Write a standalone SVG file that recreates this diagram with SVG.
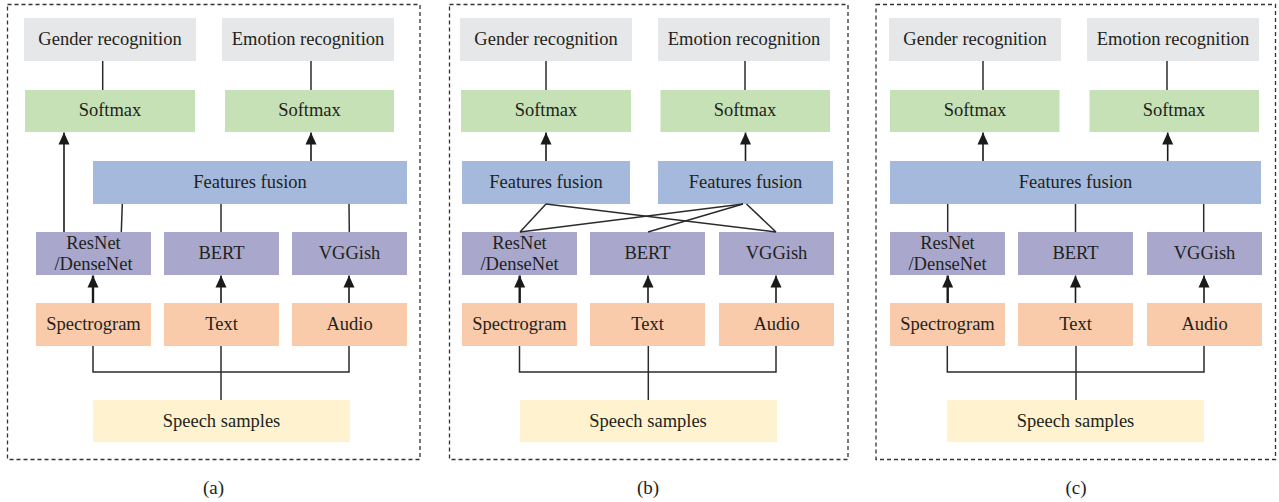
<svg xmlns="http://www.w3.org/2000/svg" width="1279" height="502" viewBox="0 0 1279 502">
<style>
text{font-family:"Liberation Serif","Times New Roman",serif;font-size:18.5px;fill:#231F20;text-anchor:middle}
.gray{fill:#E6E7E8}.green{fill:#C5E1B5}.blue{fill:#A4B9DB}.purple{fill:#A9A8CC}.orange{fill:#F9CBAA}.yellow{fill:#FEF3CE}
.ln{stroke:#2b2b2b;stroke-width:1.5;fill:none}
.ar{stroke:#1a1a1a;stroke-width:1.6;fill:none;marker-end:url(#ah)}
.ar2{stroke:#1a1a1a;stroke-width:2.4;fill:none;marker-end:url(#ah)}
.border{fill:none;stroke:#333;stroke-width:1.3;stroke-dasharray:4 3}
.lab{font-size:19px}
</style>
<defs>
<marker id="ah" viewBox="0 0 12 12" refX="12" refY="6" markerWidth="12" markerHeight="12" markerUnits="userSpaceOnUse" orient="auto">
<path d="M0,0.5 L12,6 L0,11.5 z" fill="#1a1a1a"/>
</marker>
</defs>
<rect fill="#fff" x="0" y="0" width="1279" height="502"/>

<!-- Panel borders -->
<g id="borders">
<rect class="border" x="7.5" y="4.5" width="412.5" height="455"/>
<rect class="border" x="449.5" y="4.5" width="398.5" height="455"/>
<rect class="border" x="876" y="4.5" width="399.5" height="455"/>
</g>

<!-- ============ Panel (a) ============ -->
<g id="a-gender"><rect class="gray" x="24" y="18" width="172" height="43"/><text x="110" y="45">Gender recognition</text></g>
<g id="a-emotion"><rect class="gray" x="222" y="18" width="172" height="43"/><text x="308" y="45">Emotion recognition</text></g>
<g id="a-softmax1"><rect class="green" x="25" y="90" width="170" height="42"/><text x="110" y="116">Softmax</text></g>
<g id="a-softmax2"><rect class="green" x="225" y="90" width="169" height="42"/><text x="309.5" y="116">Softmax</text></g>
<g id="a-fusion"><rect class="blue" x="93" y="161" width="314" height="43"/><text x="250" y="188">Features fusion</text></g>
<g id="a-resnet"><rect class="purple" x="36" y="232" width="115" height="43"/><text x="93.5" y="248.5">ResNet</text><text x="93.5" y="270">/DenseNet</text></g>
<g id="a-bert"><rect class="purple" x="164" y="232" width="115" height="43"/><text x="221.5" y="259">BERT</text></g>
<g id="a-vggish"><rect class="purple" x="292" y="232" width="115" height="43"/><text x="349.5" y="259">VGGish</text></g>
<g id="a-spectrogram"><rect class="orange" x="36" y="303" width="115" height="43"/><text x="93.5" y="330">Spectrogram</text></g>
<g id="a-text"><rect class="orange" x="164" y="303" width="115" height="43"/><text x="221.5" y="330">Text</text></g>
<g id="a-audio"><rect class="orange" x="292" y="303" width="115" height="43"/><text x="349.5" y="330">Audio</text></g>
<g id="a-speech"><rect class="yellow" x="93" y="400" width="257" height="42"/><text x="221.5" y="427">Speech samples</text></g>

<!-- ============ Panel (b) ============ -->
<g id="b-gender"><rect class="gray" x="460" y="18" width="172" height="43"/><text x="546" y="45">Gender recognition</text></g>
<g id="b-emotion"><rect class="gray" x="658" y="18" width="172" height="43"/><text x="744" y="45">Emotion recognition</text></g>
<g id="b-softmax1"><rect class="green" x="461" y="90" width="170" height="42"/><text x="546" y="116">Softmax</text></g>
<g id="b-softmax2"><rect class="green" x="660.5" y="90" width="169.5" height="42"/><text x="745" y="116">Softmax</text></g>
<g id="b-fusion1"><rect class="blue" x="462" y="161" width="168" height="43"/><text x="546" y="188">Features fusion</text></g>
<g id="b-fusion2"><rect class="blue" x="658" y="161" width="175" height="43"/><text x="745.5" y="188">Features fusion</text></g>
<g id="b-resnet"><rect class="purple" x="462" y="232" width="115" height="43"/><text x="519.5" y="248.5">ResNet</text><text x="519.5" y="270">/DenseNet</text></g>
<g id="b-bert"><rect class="purple" x="590" y="232" width="115" height="43"/><text x="647.5" y="259">BERT</text></g>
<g id="b-vggish"><rect class="purple" x="719" y="232" width="115" height="43"/><text x="776.5" y="259">VGGish</text></g>
<g id="b-spectrogram"><rect class="orange" x="462" y="303" width="115" height="43"/><text x="519.5" y="330">Spectrogram</text></g>
<g id="b-text"><rect class="orange" x="590" y="303" width="115" height="43"/><text x="647.5" y="330">Text</text></g>
<g id="b-audio"><rect class="orange" x="719" y="303" width="115" height="43"/><text x="776.5" y="330">Audio</text></g>
<g id="b-speech"><rect class="yellow" x="520" y="400" width="257" height="42"/><text x="648" y="427">Speech samples</text></g>

<!-- ============ Panel (c) ============ -->
<g id="c-gender"><rect class="gray" x="889" y="18" width="172" height="43"/><text x="975" y="45">Gender recognition</text></g>
<g id="c-emotion"><rect class="gray" x="1087" y="18" width="172" height="43"/><text x="1173" y="45">Emotion recognition</text></g>
<g id="c-softmax1"><rect class="green" x="890" y="90" width="169.5" height="42"/><text x="975" y="116">Softmax</text></g>
<g id="c-softmax2"><rect class="green" x="1089.5" y="90" width="169.5" height="42"/><text x="1174" y="116">Softmax</text></g>
<g id="c-fusion"><rect class="blue" x="890" y="161" width="371" height="43"/><text x="1075.5" y="188">Features fusion</text></g>
<g id="c-resnet"><rect class="purple" x="890" y="232" width="115" height="43"/><text x="947.5" y="248.5">ResNet</text><text x="947.5" y="270">/DenseNet</text></g>
<g id="c-bert"><rect class="purple" x="1018" y="232" width="115" height="43"/><text x="1075.5" y="259">BERT</text></g>
<g id="c-vggish"><rect class="purple" x="1147" y="232" width="115" height="43"/><text x="1204.5" y="259">VGGish</text></g>
<g id="c-spectrogram"><rect class="orange" x="890" y="303" width="115" height="43"/><text x="947.5" y="330">Spectrogram</text></g>
<g id="c-text"><rect class="orange" x="1018" y="303" width="115" height="43"/><text x="1075.5" y="330">Text</text></g>
<g id="c-audio"><rect class="orange" x="1147" y="303" width="115" height="43"/><text x="1204.5" y="330">Audio</text></g>
<g id="c-speech"><rect class="yellow" x="947" y="400" width="257" height="42"/><text x="1075.5" y="427">Speech samples</text></g>

<!-- ============ Connectors ============ -->
<g id="connectors">
<!-- panel a -->
<line class="ln" x1="102.7" y1="61" x2="102.7" y2="90"/>
<line class="ln" x1="311" y1="61" x2="311" y2="90"/>
<line class="ar" x1="64" y1="232" x2="64" y2="132.5"/>
<line class="ar" x1="311" y1="161" x2="311" y2="132.5"/>
<line class="ln" x1="122.3" y1="204" x2="121.3" y2="232"/>
<line class="ln" x1="221" y1="204" x2="221" y2="232"/>
<line class="ln" x1="349" y1="204" x2="349.3" y2="232"/>
<line class="ar2" x1="93" y1="303" x2="93" y2="275.5"/>
<line class="ar" x1="221" y1="303" x2="221" y2="275.5"/>
<line class="ar" x1="349" y1="303" x2="349" y2="275.5"/>
<polyline class="ln" points="93,346 93,372 349,372 349,346"/>
<line class="ln" x1="221" y1="346" x2="221" y2="400"/>

<!-- panel b -->
<line class="ln" x1="546" y1="61" x2="546" y2="90"/>
<line class="ln" x1="745" y1="61" x2="745" y2="90"/>
<line class="ar" x1="546" y1="161" x2="546" y2="132.5"/>
<line class="ar" x1="745.5" y1="161" x2="745.5" y2="132.5"/>
<line class="ln" x1="546" y1="204" x2="520" y2="232"/>
<line class="ln" x1="546" y1="204" x2="776" y2="232"/>
<line class="ln" x1="743" y1="204" x2="520" y2="232"/>
<line class="ln" x1="743" y1="204" x2="648" y2="232"/>
<line class="ln" x1="746.5" y1="204" x2="776" y2="232"/>
<line class="ar2" x1="519.7" y1="303" x2="519.7" y2="275.5"/>
<line class="ar" x1="648" y1="303" x2="648" y2="275.5"/>
<line class="ar" x1="776" y1="303" x2="776" y2="275.5"/>
<polyline class="ln" points="519.5,346 519.5,372 776,372 776,346"/>
<line class="ln" x1="648.3" y1="346" x2="648.3" y2="400"/>

<!-- panel c -->
<line class="ln" x1="983" y1="61" x2="983" y2="90"/>
<line class="ln" x1="1167" y1="61" x2="1167" y2="90"/>
<line class="ar" x1="983" y1="161" x2="983" y2="132.5"/>
<line class="ar" x1="1167.7" y1="161" x2="1167.7" y2="132.5"/>
<line class="ln" x1="947.7" y1="204" x2="947.7" y2="232"/>
<line class="ln" x1="1075.5" y1="204" x2="1075.5" y2="232"/>
<line class="ln" x1="1203.7" y1="204" x2="1203.7" y2="232"/>
<line class="ar2" x1="947.7" y1="303" x2="947.7" y2="275.5"/>
<line class="ar" x1="1075.5" y1="303" x2="1075.5" y2="275.5"/>
<line class="ar" x1="1204" y1="303" x2="1204" y2="275.5"/>
<polyline class="ln" points="947.3,346 947.3,372 1204,372 1204,346"/>
<line class="ln" x1="1076" y1="346" x2="1076" y2="400"/>
</g>

<!-- Panel labels -->
<g id="labels">
<text class="lab" x="213.5" y="494">(a)</text>
<text class="lab" x="648" y="494">(b)</text>
<text class="lab" x="1076" y="494">(c)</text>
</g>
</svg>
